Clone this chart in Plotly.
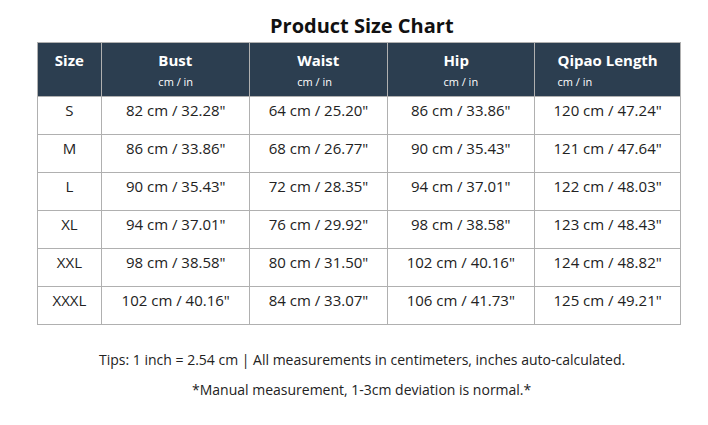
import plotly.graph_objects as go

SIZES = ['S', 'M', 'L', 'XL', 'XXL', 'XXXL']
BUST = ['82 cm / 32.28"', '86 cm / 33.86"', '90 cm / 35.43"', '94 cm / 37.01"', '98 cm / 38.58"', '102 cm / 40.16"']
WAIST = ['64 cm / 25.20"', '68 cm / 26.77"', '72 cm / 28.35"', '76 cm / 29.92"', '80 cm / 31.50"', '84 cm / 33.07"']
HIP = ['86 cm / 33.86"', '90 cm / 35.43"', '94 cm / 37.01"', '98 cm / 38.58"', '102 cm / 40.16"', '106 cm / 41.73"']
LENGTH = ['120 cm / 47.24"', '121 cm / 47.64"', '122 cm / 48.03"', '123 cm / 48.43"', '124 cm / 48.82"', '125 cm / 49.21"']
HEADERS = ['Size', 'Bust', 'Waist', 'Hip', 'Qipao Length']

FONT = 'Open Sans'
W, H = 708, 425


def header_label(name):
    if name == 'Size':
        return '<b>Size</b>'
    return f"<b>{name}</b><br><span style='font-size:11px'>cm / in</span>"


fig = go.Figure(go.Table(
    domain=dict(x=[29 / W, 673 / W], y=[1 - 330 / H, 1 - 34 / H]),
    columnwidth=[64, 146, 136, 145, 145],
    header=dict(
        values=[header_label(h) for h in HEADERS],
        fill_color='#2c3e50',
        line_color='#b0b0b0',
        font=dict(family=FONT, size=15, color='white'),
        align='center',
        height=54,
    ),
    cells=dict(
        values=[SIZES, BUST, WAIST, HIP, LENGTH],
        fill_color='white',
        line_color='#b0b0b0',
        font=dict(family=FONT, size=15, color='#222222'),
        align='center',
        height=38,
    ),
))

fig.add_annotation(x=0.5, y=1 - 17 / H, xref='paper', yref='paper', showarrow=False, yanchor='middle',
                   text='<b>Product Size Chart</b>', font=dict(family=FONT, size=20, color='#111111'))
fig.add_annotation(x=0.5, y=1 - 351 / H, xref='paper', yref='paper', showarrow=False, yanchor='middle',
                   text='Tips: 1 inch = 2.54 cm | All measurements in centimeters, inches auto-calculated.',
                   font=dict(family=FONT, size=14, color='#222222'))
fig.add_annotation(x=0.5, y=1 - 381 / H, xref='paper', yref='paper', showarrow=False, yanchor='middle',
                   text='*Manual measurement, 1-3cm deviation is normal.*',
                   font=dict(family=FONT, size=14, color='#222222'))

fig.update_layout(width=W, height=H, margin=dict(l=0, r=0, t=0, b=0),
                  paper_bgcolor='white', plot_bgcolor='white')
fig.write_html('out.html')
